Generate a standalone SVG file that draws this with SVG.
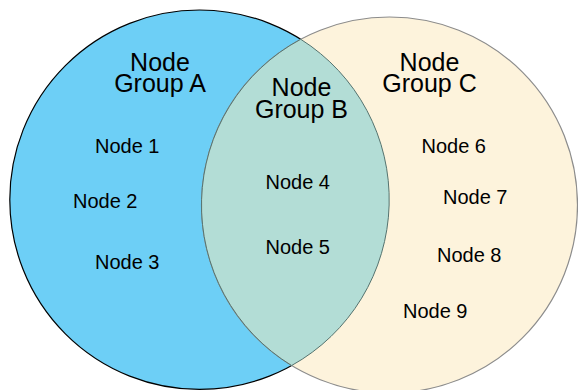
<svg xmlns="http://www.w3.org/2000/svg" width="578" height="390" viewBox="0 0 578 390">
  <style>
    .label { font-family: "Liberation Sans", Arial, sans-serif; fill: #000; }
    .group { font-size: 25px; text-anchor: middle; }
    .node { font-size: 20px; }
  </style>
  <rect width="578" height="390" fill="#ffffff"/>

  <!-- Group A: left set -->
  <g id="group-a">
    <circle cx="199.5" cy="199.7" r="189.7" fill="#6dcff6" stroke="#000000" stroke-width="1.2"/>
  </g>

  <!-- Group C: right set -->
  <g id="group-c">
    <circle cx="389.5" cy="205" r="188" fill="#fdf3dc" stroke="#8c8c8c" stroke-width="1.2"/>
  </g>

  <!-- Group B: overlap of A and C -->
  <g id="group-b">
    <path d="M300.74,39.27 A189.7,189.7 0 0 1 291.64,365.53 A188,188 0 0 1 300.74,39.27 Z"
          fill="#b3ddd6" stroke="#55736f" stroke-width="1"/>
  </g>

  <!-- Set titles (two tight lines each) -->
  <g id="title-a" class="label group">
    <text x="160" y="70.5">Node<tspan x="160" dy="21">Group A</tspan></text>
  </g>
  <g id="title-b" class="label group">
    <text x="301.5" y="96">Node<tspan x="301.5" dy="21.5">Group B</tspan></text>
  </g>
  <g id="title-c" class="label group">
    <text x="429.5" y="70.5">Node<tspan x="429.5" dy="21">Group C</tspan></text>
  </g>

  <!-- Members -->
  <g id="node-1" class="label node"><text x="95" y="152.5">Node 1</text></g>
  <g id="node-2" class="label node"><text x="73" y="207.5">Node 2</text></g>
  <g id="node-3" class="label node"><text x="95" y="268.5">Node 3</text></g>
  <g id="node-4" class="label node"><text x="265.5" y="188.5">Node 4</text></g>
  <g id="node-5" class="label node"><text x="265.5" y="254">Node 5</text></g>
  <g id="node-6" class="label node"><text x="421.5" y="152.5">Node 6</text></g>
  <g id="node-7" class="label node"><text x="443" y="204">Node 7</text></g>
  <g id="node-8" class="label node"><text x="437" y="262">Node 8</text></g>
  <g id="node-9" class="label node"><text x="403" y="317.5">Node 9</text></g>
</svg>
